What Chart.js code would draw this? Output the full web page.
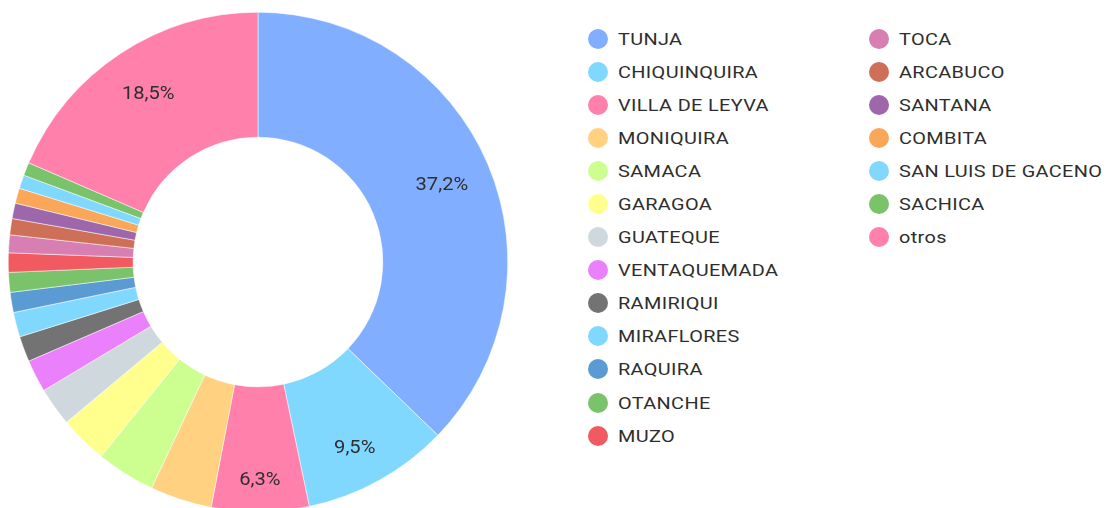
<!DOCTYPE html>
<html>
<head>
<meta charset="utf-8">
<script src="https://cdn.jsdelivr.net/npm/chart.js@4/dist/chart.umd.min.js"></script>
<style>
  html, body { margin:0; padding:0; background:#fff; width:1112px; height:508px; overflow:hidden; font-family:Roboto, sans-serif; }
  #wrap { position:absolute; left:8px; top:12px; width:500px; height:500px; }
  #legend { position:absolute; left:588px; top:22px; }
  #legend ul { list-style:none; margin:0; padding:0; display:grid; grid-auto-flow:column;
    grid-template-rows:repeat(13, 33.1px); grid-template-columns:281px auto; }
  #legend li { display:flex; align-items:center; height:33.1px; font-size:17px; letter-spacing:0.3px; color:#2e2e2e; white-space:nowrap; }
  #legend li span.dot { display:inline-block; width:20px; height:20px; border-radius:50%; margin-right:10px; flex:none; }
  #legend li span.txt { display:inline-block; transform:scaleX(1.17); transform-origin:left center; }
</style>
</head>
<body>
<div id="wrap"><canvas id="c"></canvas></div>
<div id="legend"></div>
<script>
// municipios y porcentaje de participacion
const municipios = ['TUNJA','CHIQUINQUIRA','VILLA DE LEYVA','MONIQUIRA','SAMACA','GARAGOA','GUATEQUE',
  'VENTAQUEMADA','RAMIRIQUI','MIRAFLORES','RAQUIRA','OTANCHE','MUZO','TOCA','ARCABUCO','SANTANA',
  'COMBITA','SAN LUIS DE GACENO','SACHICA','otros'];
const porcentajes = [37.2, 9.5, 6.3, 4.0, 3.8, 3.1, 2.5, 2.1, 1.65, 1.6, 1.3, 1.28, 1.25, 1.15, 1.05, 1.0,
  0.98, 0.88, 0.85, 18.5];
const colores = ['#82AEFF','#80D8FF','#FF80AB','#FFD180','#CCFF90','#FFFF8D','#CFD8DC','#EA80FC','#737373',
  '#80D8FF','#5A9BD4','#7AC36A','#F15A60','#D77FB3','#CE7058','#9E67AB','#FAA75A','#80D8FF','#7AC36A','#FF80AB'];
const minEtiqueta = 5; // solo se rotulan las porciones >= 5%

const etiquetas = {
  id: 'etiquetas',
  afterDatasetsDraw(chart) {
    const ctx = chart.ctx;
    const meta = chart.getDatasetMeta(0);
    meta.data.forEach((arc, i) => {
      const v = porcentajes[i];
      if (v < minEtiqueta) return;
      const p = arc.getProps(['x','y','startAngle','endAngle','innerRadius','outerRadius'], true);
      const mid = (p.startAngle + p.endAngle) / 2;
      const r = p.innerRadius + 0.6 * (p.outerRadius - p.innerRadius);
      const s = Math.sin(mid);
      const x = p.x + Math.cos(mid) * r;
      const y = p.y + s * r + 4 * s + (s > 0 ? 12 * Math.pow(s, 6) : 0) + 3;
      ctx.save();
      ctx.font = '17.5px Roboto';
      ctx.fillStyle = '#2e2e2e';
      ctx.textAlign = 'center';
      ctx.textBaseline = 'middle';
      ctx.translate(x, y);
      ctx.scale(1.15, 1);
      ctx.fillText(v.toFixed(1).replace('.', ',') + '%', 0, 0);
      ctx.restore();
    });
  }
};

const htmlLegend = {
  id: 'htmlLegend',
  afterUpdate(chart) {
    const box = document.getElementById('legend');
    box.innerHTML = '';
    const ul = document.createElement('ul');
    const items = chart.options.plugins.legend.labels.generateLabels(chart);
    items.forEach(item => {
      const li = document.createElement('li');
      const dot = document.createElement('span');
      dot.className = 'dot';
      dot.style.background = item.fillStyle;
      const txt = document.createElement('span');
      txt.className = 'txt';
      txt.textContent = item.text;
      li.appendChild(dot);
      li.appendChild(txt);
      ul.appendChild(li);
    });
    box.appendChild(ul);
  }
};

new Chart(document.getElementById('c'), {
  type: 'doughnut',
  data: {
    labels: municipios,
    datasets: [{
      data: porcentajes,
      backgroundColor: colores,
      borderColor: '#fff',
      borderWidth: 0.5
    }]
  },
  options: {
    responsive: true,
    maintainAspectRatio: false,
    animation: false,
    cutout: '50%',
    layout: { padding: 0 },
    plugins: {
      legend: { display: false },
      tooltip: { enabled: false }
    }
  },
  plugins: [etiquetas, htmlLegend]
});
</script>
</body>
</html>
